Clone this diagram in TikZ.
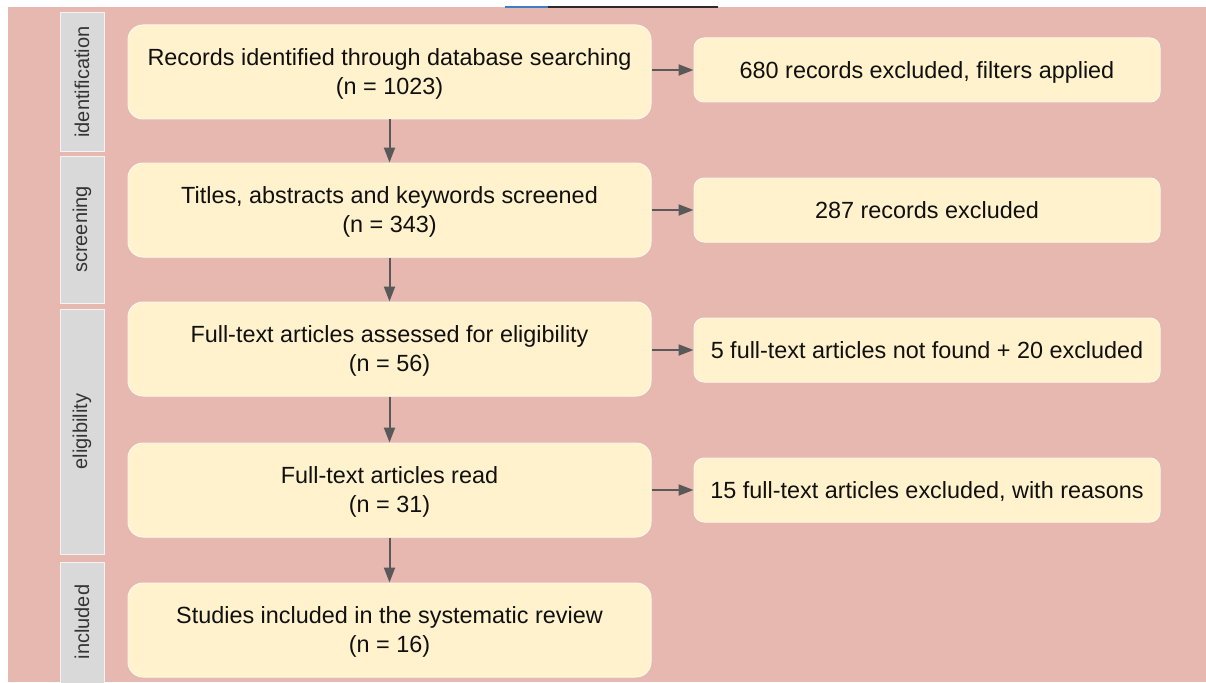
\documentclass[tikz,border=0pt]{standalone}
\usepackage{fontspec}
\setmainfont{Liberation Sans}
\usetikzlibrary{arrows.meta}
\definecolor{pinkbg}{HTML}{E6B8AF}
\definecolor{boxfill}{HTML}{FFF2CC}
\definecolor{boxline}{HTML}{FFF8EA}
\definecolor{sidefill}{HTML}{D9D9D9}
\definecolor{sideline}{HTML}{F3F3F3}
\definecolor{arrowcol}{HTML}{595959}
\definecolor{txt}{HTML}{101010}
\definecolor{topblue}{HTML}{3D7FC1}
\definecolor{topdark}{HTML}{2E2A2A}
\tikzset{
  mainbox/.style={draw=boxline, line width=1pt, fill=boxfill, rounded corners=15pt,
    minimum width=523pt, minimum height=94pt, inner sep=0pt, align=center,
    text=txt, text depth=0pt, font=\fontsize{23.4}{29}\selectfont},
  sidebox/.style={draw=boxline, line width=1pt, fill=boxfill, rounded corners=10pt,
    minimum width=466pt, minimum height=64pt, inner sep=0pt, align=center,
    text=txt, text depth=0pt, font=\fontsize{23.4}{29}\selectfont},
  phase/.style={draw=sideline, line width=1pt, fill=sidefill, rotate=90,
    minimum height=44pt, inner sep=0pt, text=txt!85!white,
    font=\fontsize{20}{24}\selectfont},
  flow/.style={draw=arrowcol, line width=2pt,
    -{Triangle[length=15pt,width=11pt]}}
}
\begin{document}
\begin{tikzpicture}[x=1pt,y=-1pt]
\useasboundingbox (0,0) rectangle (1206,682);
\clip (0,0) rectangle (1206,682);
\fill[white] (0,0) rectangle (1206,682);
\fill[pinkbg] (8,7) rectangle (1206,682);
\draw[topblue, line width=1.2pt] (505,7) -- (548,7);
\draw[topdark, line width=1.2pt] (548,7) -- (718,7);

% phase labels
\node[phase, minimum width=138pt] (pid) at (82,82) {identification};
\node[phase, minimum width=147pt] (psc) at (82,229.5) {screening};
\node[phase, minimum width=245pt] (pel) at (82,431.5) {eligibility};
\node[phase, minimum width=136pt] (pin) at (82,630) {};
\node[rotate=90, text=txt!85!white, font=\fontsize{20}{24}\selectfont] (pintxt) at (82,622) {included};

% main boxes
\node[mainbox] (m1) at (389.5,72) {Records identified through database searching\\(n = 1023)};
\node[mainbox] (m2) at (389.5,210) {Titles, abstracts and keywords screened\\(n = 343)};
\node[mainbox] (m3) at (389.5,349) {Full-text articles assessed for eligibility\\(n = 56)};
\node[mainbox] (m4) at (389.5,490) {Full-text articles read\\(n = 31)};
\node[mainbox] (m5) at (389.5,630) {Studies included in the systematic review\\(n = 16)};

% exclusion boxes
\node[sidebox] (r1) at (927,70) {680 records excluded, filters applied};
\node[sidebox] (r2) at (927,210) {287 records excluded};
\node[sidebox] (r3) at (927,350) {5 full-text articles not found + 20 excluded};
\node[sidebox] (r4) at (927,490) {15 full-text articles excluded, with reasons};

% vertical arrows
\draw[flow] (m1.south) -- (m2.north);
\draw[flow] (m2.south) -- (m3.north);
\draw[flow] (m3.south) -- (m4.north);
\draw[flow] (m4.south) -- (m5.north);

% horizontal arrows
\draw[flow] (m1.east |- r1.west) -- (r1.west);
\draw[flow] (m2.east |- r2.west) -- (r2.west);
\draw[flow] (m3.east |- r3.west) -- (r3.west);
\draw[flow] (m4.east |- r4.west) -- (r4.west);
\end{tikzpicture}
\end{document}
